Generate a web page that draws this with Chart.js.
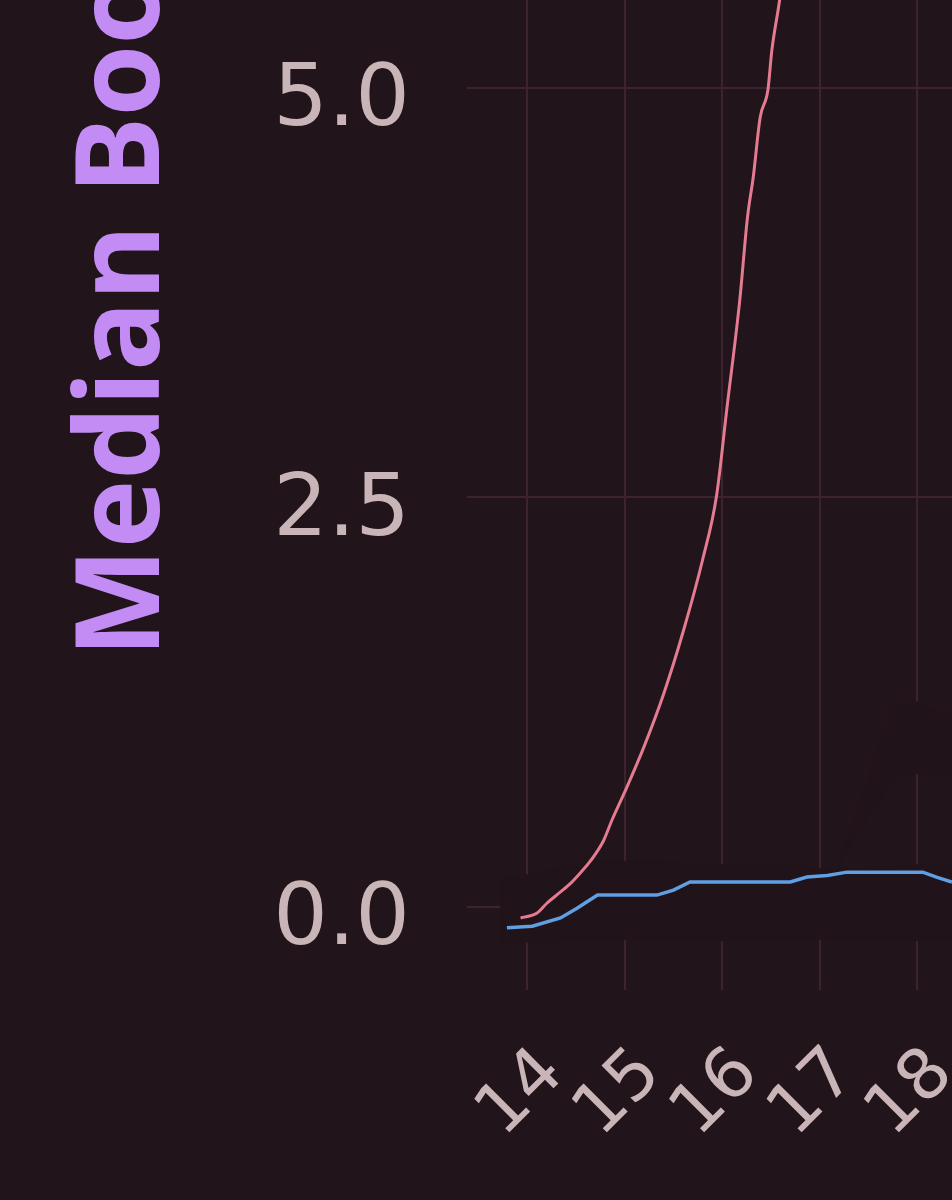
<!DOCTYPE html>
<html>
<head>
<meta charset="utf-8">
<script src="https://cdn.jsdelivr.net/npm/chart.js@4.4.1/dist/chart.umd.min.js"></script>
<style>
  html, body { margin: 0; padding: 0; background: #21141a; overflow: hidden; width: 952px; height: 1200px; }
  #wrap { position: absolute; left: 0; top: -714px; width: 952px; height: 1924px; }
</style>
</head>
<body>
<div id="wrap"><canvas id="grafico"></canvas></div>
<script>
// ── Datos ─────────────────────────────────────
const pinkX = [13.93, 14.1, 14.2, 14.3, 14.44, 14.55, 14.65, 14.78, 14.87, 15.0, 15.2, 15.4, 15.6, 15.8, 15.94, 16.05, 16.18, 16.26, 16.32, 16.39, 16.47, 16.51, 16.59, 16.7, 16.8]
const pinkY = [-0.07, -0.04, 0.02, 0.07, 0.14, 0.21, 0.28, 0.40, 0.53, 0.70, 0.98, 1.30, 1.68, 2.12, 2.50, 3.05, 3.70, 4.21, 4.46, 4.82, 4.99, 5.23, 5.54, 6.10, 6.70]

const blueX = [13.79, 14.05, 14.34, 14.51, 14.72, 15.33, 15.50, 15.67, 16.70, 16.87, 17.08, 17.28, 18.06, 18.20, 18.36, 18.50]
const blueY = [-0.13, -0.12, -0.07, -0.01, 0.07, 0.07, 0.10, 0.15, 0.15, 0.18, 0.19, 0.21, 0.21, 0.18, 0.15, 0.12]

// banda oscura alrededor de cero
const bandX     = [13.72, 14.05, 14.34, 14.51, 14.72, 15.33, 15.50, 15.67, 16.70, 16.87, 17.08, 17.28, 18.06, 18.20, 18.36, 18.50]
const bandUpper = [0.18, 0.20, 0.24, 0.26, 0.28, 0.28, 0.27, 0.26, 0.26, 0.24, 0.23, 0.23, 0.26, 0.26, 0.25, 0.24]
const bandLower = [-0.22, -0.22, -0.21, -0.21, -0.21, -0.20, -0.20, -0.21, -0.21, -0.21, -0.20, -0.20, -0.21, -0.21, -0.21, -0.21]

// banda tenue cerca de x = 18
const faintX     = [17.2, 17.5, 17.8, 18.0, 18.2, 18.5]
const faintUpper = [0.30, 0.80, 1.25, 1.25, 1.20, 1.15]
const faintLower = [0.25, 0.55, 0.80, 0.81, 0.80, 0.80]

const yTicks = [0, 2.5, 5.0, 7.5]
const yTitle = 'Median Bootstrap'

const pts = (xs, ys) => xs.map((x, i) => ({ x, y: ys[i] }))

const GRID = '#3d2330'
const TICK = '#c9b5b8'
const BAND = '#20131a'

// sin márgenes automáticos: el área del gráfico llena el lienzo
const sinPadding = axis => {
  axis.paddingTop = 0
  axis.paddingBottom = 0
  axis.paddingLeft = 0
  axis.paddingRight = 0
}

new Chart(document.getElementById('grafico'), {
  type: 'line',
  data: {
    datasets: [
      { data: pts(pinkX, pinkY), borderColor: '#e57b90', borderWidth: 3, pointRadius: 0, cubicInterpolationMode: 'monotone', fill: false },
      { data: pts(blueX, blueY), borderColor: '#5f9fe2', borderWidth: 3.5, pointRadius: 0, tension: 0, fill: false },
      { data: pts(bandX, bandLower), borderWidth: 0, pointRadius: 0, fill: false },
      { data: pts(bandX, bandUpper), borderWidth: 0, pointRadius: 0, fill: { target: 2 }, backgroundColor: BAND },
      { data: pts(faintX, faintLower), borderWidth: 0, pointRadius: 0, fill: false },
      { data: pts(faintX, faintUpper), borderColor: '#26141b', borderWidth: 1.5, pointRadius: 0, cubicInterpolationMode: 'monotone', fill: { target: 4 }, backgroundColor: BAND }
    ]
  },
  options: {
    responsive: true,
    maintainAspectRatio: false,
    animation: false,
    layout: { padding: 0, autoPadding: false },
    plugins: { legend: { display: false }, tooltip: { enabled: false } },
    scales: {
      x: {
        type: 'linear',
        min: 13.38,
        max: 18.36,
        border: { display: false },
        grid: { color: GRID, lineWidth: 2, drawTicks: false },
        afterFit: axis => { axis.height = 220; sinPadding(axis) },
        ticks: {
          stepSize: 1,
          includeBounds: false,
          autoSkip: false,
          minRotation: 45,
          maxRotation: 45,
          padding: 43,
          labelOffset: 26,
          color: TICK,
          font: { family: "'DejaVu Sans'", size: 70 }
        }
      },
      y: {
        min: -0.51,
        max: 9.9,
        border: { display: false },
        grid: { color: GRID, lineWidth: 2, drawTicks: false },
        afterBuildTicks: axis => { axis.ticks = yTicks.map(v => ({ value: v })) },
        afterFit: axis => { axis.width = 467; sinPadding(axis) },
        ticks: {
          padding: 57,
          labelOffset: 15,
          color: TICK,
          font: { family: "'DejaVu Sans'", size: 86 },
          callback: v => v.toFixed(1)
        },
        title: {
          display: true,
          text: yTitle,
          color: '#c38cf4',
          padding: { top: 56, bottom: 16 },
          font: { family: "'Open Sans'", size: 116, weight: 'bold', lineHeight: 1.2 }
        }
      }
    }
  }
})
</script>
</body>
</html>
